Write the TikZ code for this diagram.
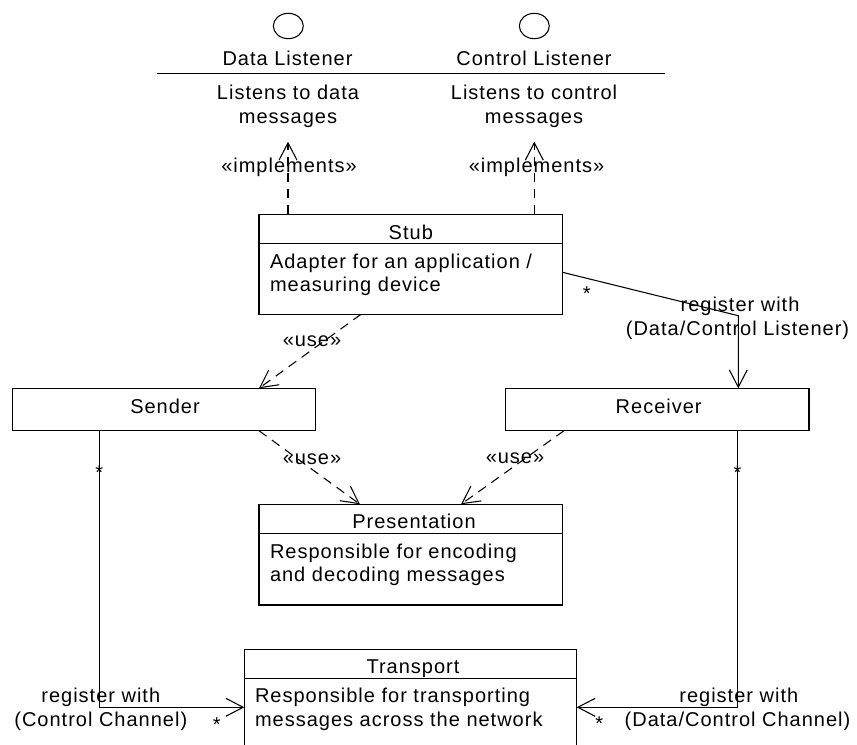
\documentclass[tikz,border=0pt]{standalone}
\usepackage{fontspec}
\setmainfont{Liberation Sans}[LetterSpace=5]
\usetikzlibrary{arrows.meta,calc,fit,shapes.geometric}
\begin{document}
\begin{tikzpicture}[x=0.75pt,y=-0.75pt,
  line width=0.8pt,
  box/.style={draw,inner sep=0pt,outer sep=0pt},
  txt/.style={inner sep=0pt,outer sep=0pt,anchor=base,font=\fontsize{15pt}{18pt}\selectfont},
  ltxt/.style={txt,anchor=base west},
  star/.style={txt},
  barb/.style={-{Straight Barb[length=13pt,width=13.5pt]}},
  dep/.style={barb,dash pattern=on 7pt off 5pt},
  assoc/.style={barb},
  iface/.style={draw,ellipse,inner sep=0pt,minimum width=22.5pt,minimum height=19pt}
]
\useasboundingbox (0,0) rectangle (857,745);
\clip (0,0) rectangle (857,745);

% interfaces
\node[iface] (dlicon) at (288.3,26) {};
\node[iface] (clicon) at (534.3,26) {};
\node[txt] (dlname) at (287.5,65.3) {Data Listener};
\node[txt] (clname) at (534,65.3) {Control Listener};
\draw (157,73.3) -- (420,73.3);
\draw (404,73.8) -- (665,73.8);
\node[txt] (dldesc1) at (288,99.3) {Listens to data};
\node[txt] (dldesc2) at (288,123.3) {messages};
\node[txt] (cldesc1) at (534,99.3) {Listens to control};
\node[txt] (cldesc2) at (534,123.3) {messages};
\coordinate (dlport) at (288,141.7);
\coordinate (clport) at (534.3,141.7);

% classes
\node[box,fit={(259,214.3) (562.5,314.3)}] (stub) {};
\draw ($(stub.north west)+(0,29)$) -- ($(stub.north east)+(0,29)$);
\node[txt] (stubname) at (410.8,239.3) {Stub};
\node[ltxt] (stubd1) at (270,268.3) {Adapter for an application /};
\node[ltxt] (stubd2) at (270,291.7) {measuring device};

\node[box,fit={(12.7,388.3) (315.7,430.7)}] (sender) {};
\node[txt] (sendername) at (165,413.3) {Sender};
\node[box,fit={(505.7,388.3) (809,430.7)}] (receiver) {};
\node[txt] (receivername) at (658.7,413.3) {Receiver};

\node[box,fit={(259,504.3) (562.3,605)}] (pres) {};
\draw ($(pres.north west)+(0,29)$) -- ($(pres.north east)+(0,29)$);
\node[txt] (presname) at (414,528.3) {Presentation};
\node[ltxt] (presd1) at (270,558.3) {Responsible for encoding};
\node[ltxt] (presd2) at (270,581.7) {and decoding messages};

\node[box,fit={(244.3,649.3) (576.7,760)}] (transport) {};
\draw ($(transport.north west)+(0,29)$) -- ($(transport.north east)+(0,29)$);
\node[txt] (transname) at (413,673.3) {Transport};
\node[ltxt] (transd1) at (255,702.5) {Responsible for transporting};
\node[ltxt] (transd2) at (255,726.5) {messages across the network};

% implements
\draw[dep] (dlport |- stub.north) -- (dlport);
\draw[dep] (clport |- stub.north) -- (clport);
\node[txt] (impl1) at (289,172.7) {«implements»};
\node[txt] (impl2) at (536.5,172.7) {«implements»};

% use dependencies
\draw[dep] ($(stub.south)+(-49.75,0)$) -- ($(sender.north)+(94.8,0)$);
\node[txt] (use1) at (312,346.5) {«use»};
\draw[dep] ($(sender.south)+(94.8,0)$) -- ($(pres.north)+(-50.65,0)$);
\node[txt] (use2) at (312,464) {«use»};
\draw[dep] ($(receiver.south)+(-93.35,0)$) -- ($(pres.north)+(50.35,0)$);
\node[txt] (use3) at (515,463.5) {«use»};

% associations
\coordinate (bendR) at (738.3,315.7);
\draw[assoc] ($(stub.east)+(0,8)$) -- (bendR) -- (bendR |- receiver.north);
\node[star] (s1) at (586.7,301) {*};
\node[txt] (reg1a) at (740,312) {register with};
\node[txt] (reg1b) at (737.5,335.5) {(Data/Control Listener)};

\coordinate (cornerL) at (99.3,707.3);
\draw[assoc] (cornerL |- sender.south) -- (cornerL) -- (cornerL -| transport.west);
\node[star] (s2) at (99.3,479) {*};
\node[star] (s3) at (216.7,731.7) {*};
\node[txt] (reg2a) at (100.8,702.7) {register with};
\node[txt] (reg2b) at (100.8,726.7) {(Control Channel)};

\coordinate (cornerR) at (737.7,707.3);
\draw[assoc] (cornerR |- receiver.south) -- (cornerR) -- (cornerR -| transport.east);
\node[star] (s4) at (737.5,479) {*};
\node[star] (s5) at (599.3,730) {*};
\node[txt] (reg3a) at (738.8,702.7) {register with};
\node[txt] (reg3b) at (737.5,726.7) {(Data/Control Channel)};
\end{tikzpicture}
\end{document}
